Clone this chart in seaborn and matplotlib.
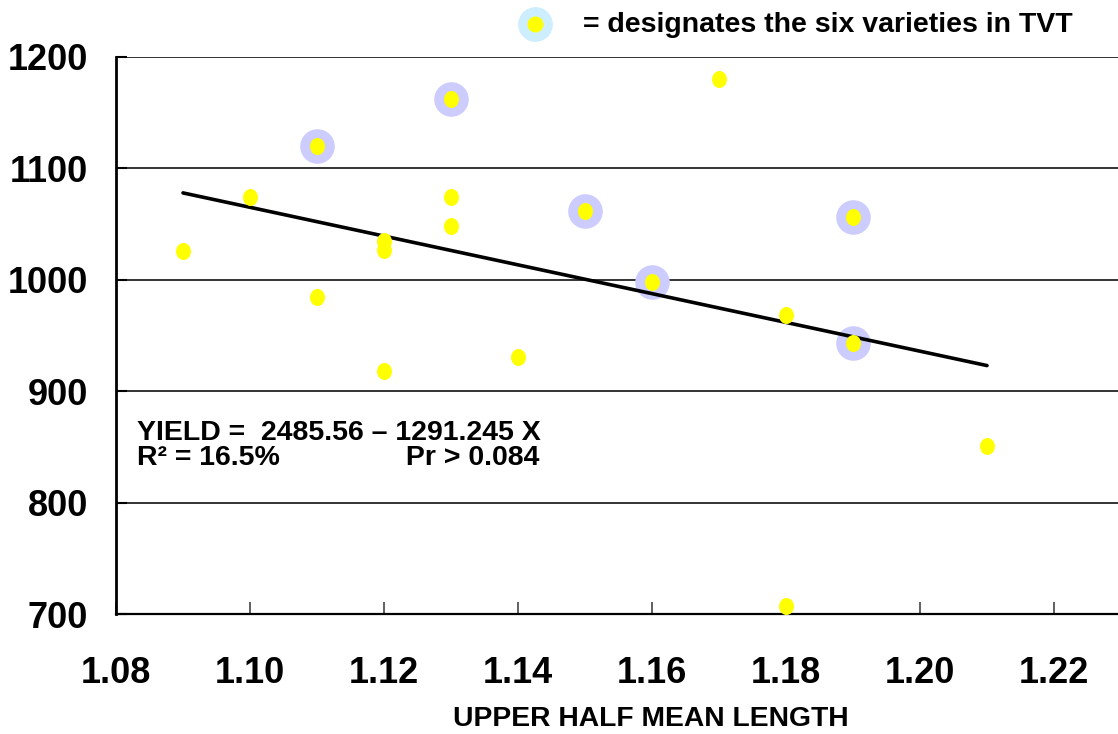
import numpy as np
import pandas as pd
import seaborn as sns
import matplotlib.pyplot as plt
from matplotlib.path import Path
from matplotlib.transforms import Affine2D

# upper half mean length vs yield
uhml = [1.09, 1.10, 1.11, 1.11, 1.12, 1.12, 1.12, 1.13, 1.13, 1.13,
        1.14, 1.15, 1.16, 1.17, 1.18, 1.18, 1.19, 1.19, 1.21]
yld = [1026, 1074, 1120, 985, 1035, 1027, 918, 1162, 1074, 1048,
       931, 1062, 998, 1180, 968, 707, 1056, 943, 851]
in_tvt = [0, 0, 1, 0, 0, 0, 0, 1, 0, 0, 0, 1, 1, 0, 0, 0, 1, 1, 0]

# fitted line end points
fit_x = [1.09, 1.21]
fit_y = [1078, 923]

x_ticks = [1.08, 1.10, 1.12, 1.14, 1.16, 1.18, 1.20, 1.22]
y_ticks = [700, 800, 900, 1000, 1100, 1200]

df = pd.DataFrame({'uhml': uhml, 'yield': yld, 'tvt': in_tvt})

sns.set_theme(style="white")
plt.rcParams['font.family'] = ['Liberation Sans', 'DejaVu Sans']
plt.rcParams['font.weight'] = 'bold'
plt.rcParams['text.color'] = 'black'
plt.rcParams['xtick.labelcolor'] = 'black'
plt.rcParams['ytick.labelcolor'] = 'black'

fig = plt.figure(figsize=(11.18, 7.34), dpi=100)
ax = fig.add_axes([116/1118, 1 - 614/734, 1 - 116/1118, (614 - 57)/734])

# slightly tall ellipse like the original dots
dot = Affine2D().scale(0.88, 1.0).transform_path(Path.unit_circle())

for yv in y_ticks:
    ax.axhline(yv, color='#333333', lw=1.4, zorder=0)

sns.scatterplot(data=df[df.tvt == 1], x='uhml', y='yield', s=620,
                color='#ccccff', linewidth=0, ax=ax, zorder=2)
sns.lineplot(x=fit_x, y=fit_y, color='black', lw=2.6, ax=ax, zorder=3)
sns.scatterplot(data=df, x='uhml', y='yield', s=150, marker=dot,
                color='#ffff00', linewidth=0, ax=ax, zorder=4)

ax.set_xlim(1.08, 1.08 + 0.02 * (1118 - 116) / 134)
ax.set_ylim(700, 1200)
ax.set_xticks(x_ticks)
ax.set_xticklabels(['%.2f' % v for v in x_ticks])
ax.set_yticks(y_ticks)
ax.set_xlabel('')
ax.set_ylabel('')
ax.tick_params(axis='x', direction='in', length=8.5, width=1.2, color='#444444',
               labelsize=26, pad=30, bottom=True)
ax.tick_params(axis='y', direction='in', length=8, width=1.5, color='black',
               labelsize=26, pad=20, left=True)

for s in ['top', 'right']:
    ax.spines[s].set_visible(False)
ax.spines['left'].set_color('black')
ax.spines['left'].set_linewidth(2)
ax.spines['bottom'].set_color('black')
ax.spines['bottom'].set_linewidth(1.6)

# regression note: one two-line text, second line padded so Pr sits at the right
note_size = 20.5
line1 = 'YIELD =  2485.56 \u2013 1291.245 X'
r2 = 'R\u00b2 = 16.5%'
pr = 'Pr > 0.084'
renderer = fig.canvas.get_renderer()


def text_width(s):
    t = ax.text(0, 0, s, fontsize=note_size, fontweight='bold')
    w = t.get_window_extent(renderer).width
    t.remove()
    return w


target = text_width(line1) - 8
n = 1
while text_width(r2 + ' ' * n + pr) < target:
    n += 1
note = line1 + '\n' + r2 + ' ' * n + pr
ax.text(0.021, 0.349, note, transform=ax.transAxes, fontsize=note_size,
        fontweight='bold', va='top', ha='left', linespacing=0.95)

fig.text(651/1118, 1 - 719/734, 'UPPER HALF MEAN LENGTH', fontsize=20.3,
         fontweight='bold', ha='center', va='center')

# legend key at the top
ax.plot([535/1118], [1 - 24/734], 'o', transform=fig.transFigure, clip_on=False,
        ms=25, color='#cceeff', mew=0)
ax.plot([535/1118], [1 - 24/734], 'o', transform=fig.transFigure, clip_on=False,
        ms=11.5, color='#ffff00', mew=0)
fig.text(583/1118, 1 - 25/734, '= designates the six varieties in TVT', fontsize=20.5,
         fontweight='bold', ha='left', va='center')

fig.savefig('out.png', dpi=100)
